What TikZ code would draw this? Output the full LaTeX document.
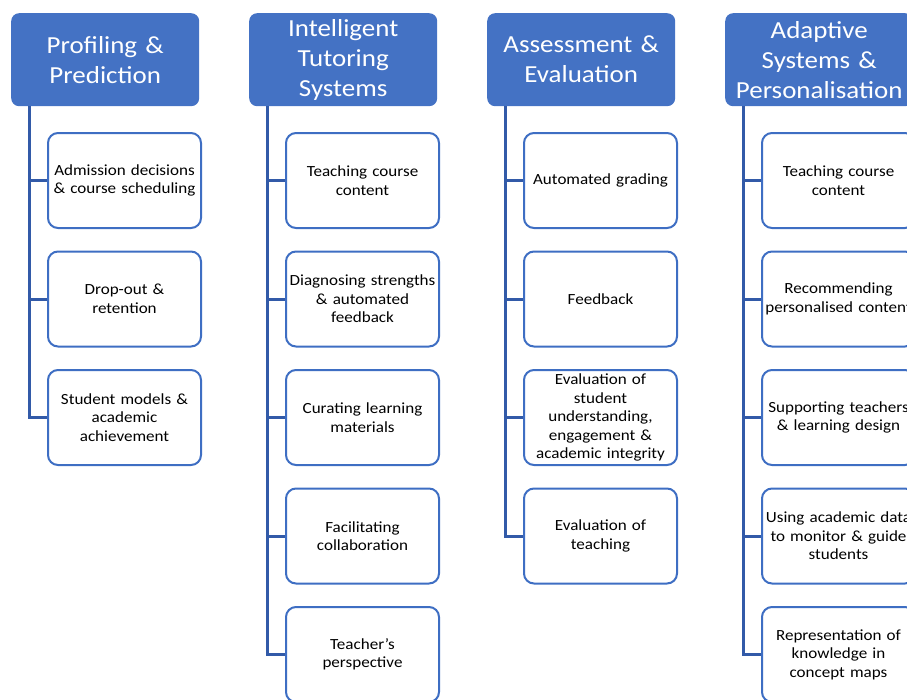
\documentclass[tikz,border=0pt]{standalone}
\usepackage{fontspec}
\setmainfont{Carlito}[FakeStretch=1.1,WordSpace=0.8]
\definecolor{hdr}{RGB}{68,114,196}
\definecolor{lnc}{RGB}{50,90,168}
\definecolor{bdr}{RGB}{62,110,195}
\begin{document}
\begin{tikzpicture}[x=1pt,y=-1pt,
 hdrbox/.style={draw=none, fill=hdr, rounded corners=8pt, minimum width=188pt, minimum height=93pt, text width=186pt, inner sep=0pt, align=center, anchor=north west, text=white, font=\fontsize{24.5}{30}\selectfont},
 itembox/.style={draw=bdr, line width=2pt, fill=white, rounded corners=10pt, minimum width=153pt, minimum height=95pt, text width=151pt, inner sep=0pt, align=center, anchor=north west, text=black, font=\fontsize{15.5}{18.5}\selectfont},
 trunk/.style={draw=lnc, line width=3pt}]
\path[use as bounding box, clip] (0,0) rectangle (907,699);
% headers
\node[hdrbox] (h1) at (11,13) {Profiling \&\\Prediction};
\node[hdrbox] (h2) at (249,13) {Intelligent\\Tutoring\\Systems};
\node[hdrbox] (h3) at (487,13) {Assessment \&\\Evaluation};
\node[hdrbox] (h4) at (725,13) {Adaptive\\Systems \&\\Personalisation};
% column 1
\node[itembox] (a1) at (47,132) {Admission decisions\\\& course scheduling};
\node[itembox] (a2) at (47,250.5) {Drop-out \&\\retention};
\node[itembox] (a3) at (47,369) {Student models \&\\academic\\achievement};
% column 2
\node[itembox] (b1) at (285,132) {Teaching course\\content};
\node[itembox] (b2) at (285,250.5) {Diagnosing strengths\\\& automated\\feedback};
\node[itembox] (b3) at (285,369) {Curating learning\\materials};
\node[itembox] (b4) at (285,487.5) {Facilitating\\collaboration};
\node[itembox] (b5) at (285,606) {Teacher's\\perspective};
% column 3
\node[itembox] (c1) at (523,132) {Automated grading};
\node[itembox] (c2) at (523,250.5) {Feedback};
\node[itembox] (c3) at (523,369) {Evaluation of\\student\\understanding,\\engagement \&\\academic integrity};
\node[itembox] (c4) at (523,487.5) {Evaluation of\\teaching};
% column 4
\node[itembox] (d1) at (761,132) {Teaching course\\content};
\node[itembox] (d2) at (761,250.5) {Recommending\\personalised content};
\node[itembox] (d3) at (761,369) {Supporting teachers\\\& learning design};
\node[itembox] (d4) at (761,487.5) {Using academic data\\to monitor \& guide\\students};
\node[itembox] (d5) at (761,606) {Representation of\\knowledge in\\concept maps};
% connectors
\foreach \c in {a1,a2,a3} \draw[trunk] ([xshift=18pt]h1.south west) |- (\c.west);
\foreach \c in {b1,b2,b3,b4,b5} \draw[trunk] ([xshift=18pt]h2.south west) |- (\c.west);
\foreach \c in {c1,c2,c3,c4} \draw[trunk] ([xshift=18pt]h3.south west) |- (\c.west);
\foreach \c in {d1,d2,d3,d4,d5} \draw[trunk] ([xshift=18pt]h4.south west) |- (\c.west);
\end{tikzpicture}
\end{document}
